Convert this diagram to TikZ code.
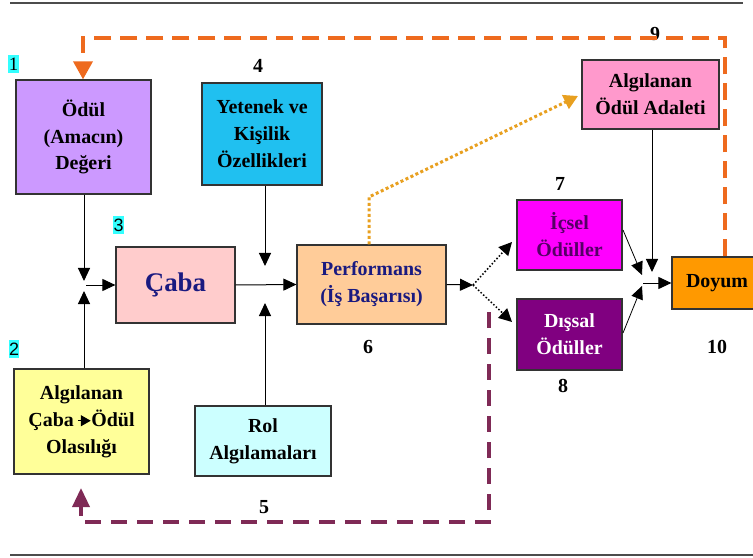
\documentclass[tikz,border=0pt]{standalone}
\usepackage{fontspec}
\setmainfont{Liberation Serif}
\newfontfamily\labelsans{Liberation Sans}
\usetikzlibrary{arrows.meta,calc}

\definecolor{lavender}{HTML}{CC99FF}
\definecolor{skyblue}{HTML}{20C0F0}
\definecolor{pinkbox}{HTML}{FFCCCC}
\definecolor{peach}{HTML}{FFCC99}
\definecolor{paleyellow}{HTML}{FFFF99}
\definecolor{palecyan}{HTML}{CCFFFF}
\definecolor{rosebox}{HTML}{FF99CC}
\definecolor{magentabox}{HTML}{FF00FF}
\definecolor{plumbox}{HTML}{800080}
\definecolor{orangebox}{HTML}{FF9900}
\definecolor{dashorange}{HTML}{EE6A1E}
\definecolor{dashplum}{HTML}{7F2A56}
\definecolor{dotgold}{HTML}{E8A020}
\definecolor{navytext}{HTML}{1A1A80}
\definecolor{plumtext}{HTML}{550066}
\definecolor{hilite}{HTML}{33FFFF}

\begin{document}
\begin{tikzpicture}[x=1bp,y=-1bp,
  box/.style={draw=black!80, line width=1.2bp, align=center,
    font=\fontsize{20}{27}\selectfont\bfseries, inner sep=0pt},
  num/.style={font=\fontsize{20}{24}\selectfont\bfseries, inner sep=0pt},
  tag/.style={fill=hilite, font=\fontsize{19}{22}\selectfont, inner xsep=0.5bp,
    inner ysep=3bp},
  arr/.style={line width=1bp, -{Triangle[length=13bp,width=12bp]}},
  thinarr/.style={line width=0.8bp, -{Triangle[length=13bp,width=12bp]}},
  dotarr/.style={line width=1.5bp, dash pattern=on 1.5bp off 2bp,
    -{Triangle[length=13bp,width=13bp]}},
  goldarr/.style={draw=dotgold, line width=3bp, dash pattern=on 3bp off 2.5bp,
    -{Triangle[length=14bp,width=15bp,fill=dotgold]}},
  orangeloop/.style={draw=dashorange, line width=3.5bp, dash pattern=on 17bp off 9bp,
    -{Triangle[length=18bp,width=19bp,fill=dashorange]}},
  plumloop/.style={draw=dashplum, line width=3.5bp, dash pattern=on 16bp off 10bp,
    -{Triangle[length=19bp,width=17bp,fill=dashplum]}},
  rule/.style={draw=black!70, line width=2bp}
]
\useasboundingbox (0,0) rectangle (753,558);

% horizontal rules above and below
\draw[rule] (10,3) -- (743,3);
\draw[rule] (10,555) -- (753,555);

% boxes
\node[box, fill=lavender, minimum width=135bp, minimum height=114bp] (odul) at (83.5,137) {Ödül\\(Amacın)\\Değeri};
\node[box, fill=skyblue, minimum width=120bp, minimum height=102bp] (yetenek) at (262,134) {Yetenek ve\\Kişilik\\Özellikleri};
\node[box, fill=pinkbox, minimum width=119bp, minimum height=76bp, text=navytext,
  font=\fontsize{27}{30}\selectfont\bfseries] (caba) at (175.5,285) {Çaba};
\node[box, fill=peach, minimum width=149bp, minimum height=79bp, text=navytext] (perf) at (371.5,284.5) {Performans\\(İş Başarısı)};
\node[box, fill=paleyellow, minimum width=135bp, minimum height=105bp] (olasilik) at (81.5,421.5)
  {Algılanan\\Çaba\,\tikz[baseline=-0.6ex]\draw[line width=1.2bp,-{Triangle[length=10bp,width=11bp]}] (0,0) -- (13bp,0);Ödül\\Olasılığı};
\node[box, fill=palecyan, minimum width=136bp, minimum height=70bp] (rol) at (263,441) {Rol\\Algılamaları};
\node[box, fill=rosebox, minimum width=137bp, minimum height=69bp] (adalet) at (650.5,94.5) {Algılanan\\Ödül Adaleti};
\node[box, fill=magentabox, minimum width=105bp, minimum height=70bp, text=plumtext] (icsel) at (569.5,235) {İçsel\\Ödüller};
\node[box, fill=plumbox, minimum width=105bp, minimum height=71bp, text=white] (dissal) at (569.5,334.5) {Dışsal\\Ödüller};
\node[box, fill=orangebox, minimum width=90bp, minimum height=52bp] (doyum) at (717,283) {Doyum};

% step numbers
\node[tag] (t1) at (13.5,64) {1};
\node[tag, font=\labelsans\fontsize{18}{22}\selectfont] (t2) at (14,349) {2};
\node[tag, font=\labelsans\fontsize{18}{22}\selectfont] (t3) at (118.5,225) {3};
\node[num] (n4) at (258,66) {4};
\node[num] (n5) at (264,507) {5};
\node[num] (n6) at (368,347) {6};
\node[num] (n7) at (560,184) {7};
\node[num] (n8) at (563,386) {8};
\node[num] (n9) at (655,34) {9};
\node[num] (n10) at (717,347) {10};

% junction points
\coordinate (j1up) at (84,281);
\coordinate (j1dn) at (84,291);
\coordinate (j1r) at (86,285);
\coordinate (j2up) at (265,266);
\coordinate (j2dn) at (265,303);
\coordinate (j3) at (473,285);
\coordinate (icselin) at (512,242);
\coordinate (dissalin) at (512,322);
\coordinate (icselout) at (623,230);
\coordinate (dissalout) at (623,333);
\coordinate (j4a) at (642,275);
\coordinate (j4b) at (642,286);
\coordinate (j4r) at (643,283);
\coordinate (j4up) at (652,272);

% solid connectors
\draw[arr] (j1up |- odul.south) -- (j1up);
\draw[arr] (j1dn |- olasilik.north) -- (j1dn);
\draw[arr] (j1r) -- (caba.west);
\draw[arr] (caba.east) -- (perf.west);
\draw[arr] (yetenek.south -| j2up) -- (j2up);
\draw[arr] (rol.north -| j2dn) -- (j2dn);
\draw[arr] (perf.east) -- (j3);
\draw[thinarr] (icselout) -- (j4a);
\draw[thinarr] (dissalout) -- (j4b);
\draw[arr] (j4r) -- (doyum.west);
\draw[arr] (adalet.south -| j4up) -- (j4up);

% dotted connectors
\draw[dotarr] (j3) -- (icselin);
\draw[dotarr] (j3) -- (dissalin);
\coordinate (goldbend) at (369,197);
\coordinate (goldtip) at (578,96);
\draw[goldarr] (perf.north -| goldbend) -- (goldbend) -- (goldtip);

% feedback loops
\coordinate (topright) at (725,38);
\coordinate (topleft) at (83,38);
\draw[orangeloop] (doyum.north -| topright) -- (topright) -- (topleft) -- (odul.north -| topleft);
\coordinate (plumstart) at (489,312);
\coordinate (plumcorner) at (489,522);
\coordinate (plumleft) at (81,522);
\coordinate (plumtip) at (81,488);
\draw[plumloop] (plumstart) -- (plumcorner) -- (plumleft) -- (plumtip);
\end{tikzpicture}
\end{document}
